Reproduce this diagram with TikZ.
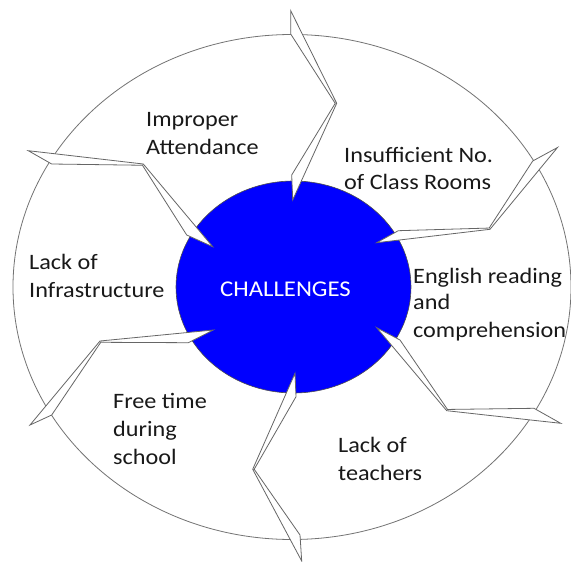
\documentclass[tikz,border=0pt]{standalone}
\usepackage{fontspec}
\setmainfont{Carlito}[FakeStretch=1.1]
\usetikzlibrary{shapes.geometric}
\tikzset{
  lbl/.style={anchor=base west, inner sep=0pt, font=\fontsize{22}{28}\selectfont, text=black!90},
  ring/.style={draw=black!55, line width=0.8pt},
  arrowband/.style={draw=black!60, fill=white, line width=0.8pt, line join=miter},
  hub/.style={ellipse, draw=black!70, line width=0.6pt, fill={rgb,255:red,0;green,0;blue,255}, minimum width=235pt, minimum height=212pt, inner sep=0pt}
}
\begin{document}
\begin{tikzpicture}[x=1pt,y=-1pt]
\useasboundingbox[fill=white] (0,0) rectangle (571,562);
% outer ring
\draw[ring] (292,287) ellipse [x radius=279pt, y radius=252.5pt];
% hub
\node[hub] (hub) at (293.5,287) {};
% arrows: tail, bend, tip, tip-barb, inner bend, tail-barb
\draw[arrowband] (290.7,10.7) -- (336.7,103.3) -- (292.7,200) -- (291.7,175) -- (335.2,103.35) -- (290.7,34) -- cycle;
\draw[arrowband] (557.5,147.5) -- (490,229.3) -- (376.7,242.7) -- (398.3,230.7) -- (489.15,228.05) -- (532.7,161) -- cycle;
\draw[arrowband] (560.7,423.3) -- (446.7,410.7) -- (376.7,327.7) -- (400,340) -- (447.5,409.45) -- (534,408.3) -- cycle;
\draw[arrowband] (301.7,561) -- (252.7,469.3) -- (295,373.3) -- (296,396.7) -- (254.2,469.25) -- (300,535) -- cycle;
\draw[arrowband] (30,425) -- (100,341) -- (213.3,330) -- (188.3,342.7) -- (100.75,342.3) -- (51.7,415) -- cycle;
\draw[arrowband] (28.3,150.7) -- (143.3,164) -- (212.7,246.7) -- (186.7,235) -- (142.45,165.25) -- (51.7,164) -- cycle;
% centre label
\node[lbl, text=white, font=\fontsize{22.5}{28}\selectfont] (title) at (220,296.8) {CHALLENGES};
% labels
\node[lbl] (imp1) at (146,126.2) {Improper};
\node[lbl] (imp2) at (146,154.1) {Attendance};
\node[lbl] (ins1) at (344,162) {Insufficient No.};
\node[lbl] (ins2) at (344,189.2) {of Class Rooms};
\node[lbl] (eng1) at (413,283) {English reading};
\node[lbl] (eng2) at (413,309.5) {and};
\node[lbl] (eng3) at (413,337.6) {comprehension};
\node[lbl] (inf1) at (29,269.5) {Lack of};
\node[lbl] (inf2) at (29,297.5) {Infrastructure};
\node[lbl] (fre1) at (113,408.6) {Free time};
\node[lbl] (fre2) at (113,436.6) {during};
\node[lbl] (fre3) at (113,464) {school};
\node[lbl] (tea1) at (338,452.3) {Lack of};
\node[lbl] (tea2) at (338,480.3) {teachers};
\end{tikzpicture}
\end{document}
